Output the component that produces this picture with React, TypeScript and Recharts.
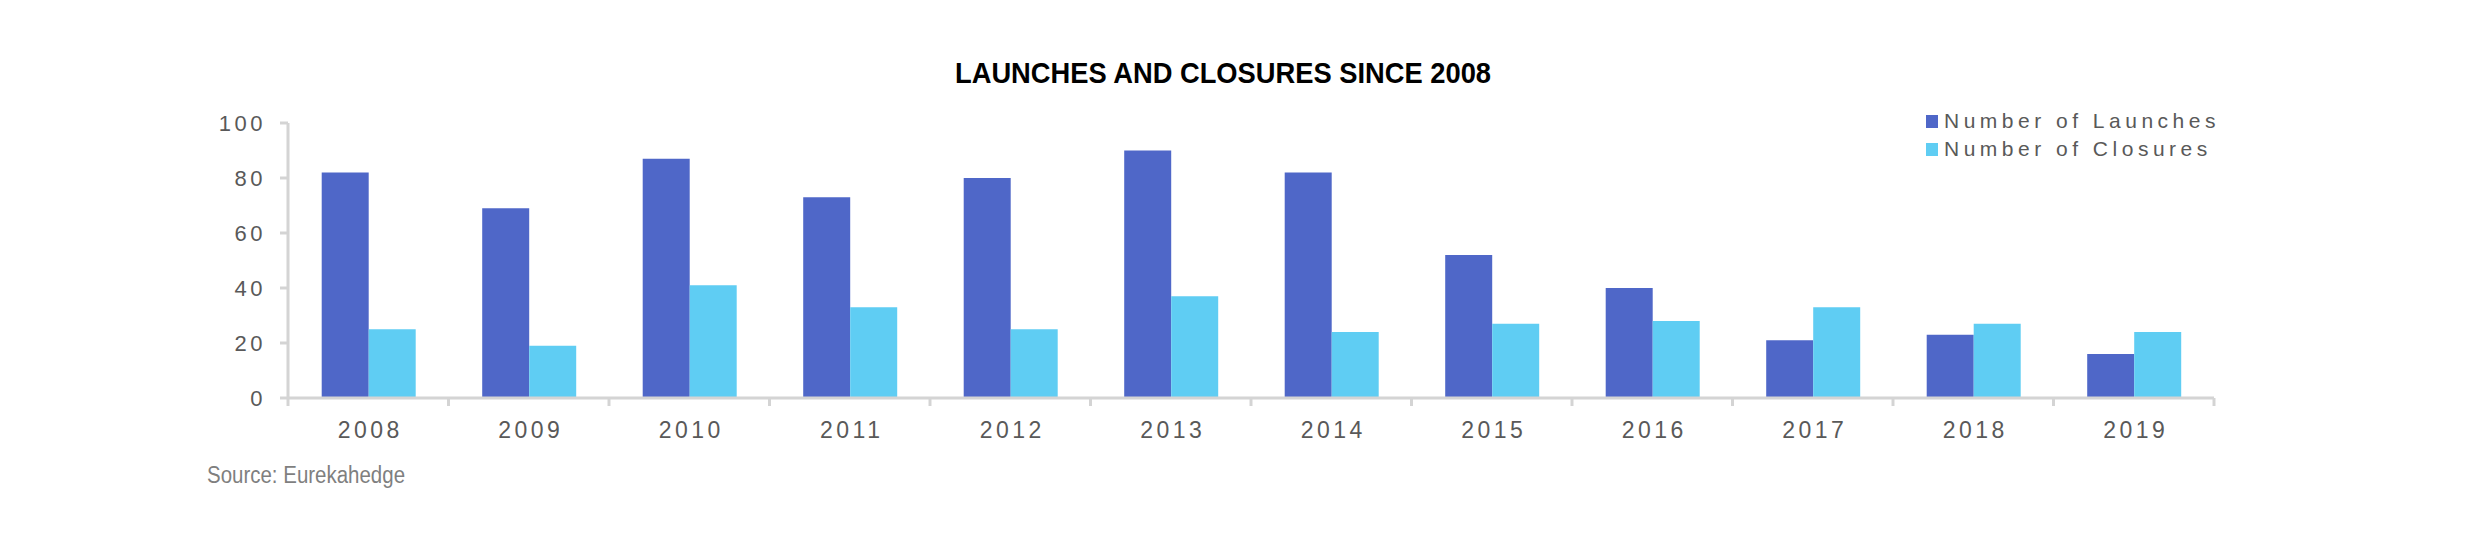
import React from 'react';
import { BarChart, Bar, XAxis, YAxis } from 'recharts';

const years = ['2008', '2009', '2010', '2011', '2012', '2013', '2014', '2015', '2016', '2017', '2018', '2019'];
const launches = [82, 69, 87, 73, 80, 90, 82, 52, 40, 21, 23, 16];
const closures = [25, 19, 41, 33, 25, 37, 24, 27, 28, 33, 27, 24];
const yTicks = [0, 20, 40, 60, 80, 100];
const seriesNames = ['Number of Launches', 'Number of Closures'];

const LAUNCH_COLOR = '#4F67C8';
const CLOSURE_COLOR = '#5FCDF3';
const AXIS_COLOR = '#D4D4D4';
const TEXT_COLOR = '#595959';
const FONT = "'Liberation Sans', Arial, sans-serif";

const data = years.map((y, i) => ({ year: y, launches: launches[i], closures: closures[i] }));

const XTick = (props: any) => {
  const { x, y, payload, index, visibleTicksCount } = props;
  const off = payload && payload.offset ? payload.offset : 0;
  return (
    <g>
      <line x1={x - off} x2={x - off} y1={y} y2={y + 8} stroke={AXIS_COLOR} strokeWidth={3} />
      {index === visibleTicksCount - 1 ? (
        <line x1={x + off} x2={x + off} y1={y} y2={y + 8} stroke={AXIS_COLOR} strokeWidth={3} />
      ) : null}
      <text x={x + 2} y={y + 40} textAnchor="middle" fill={TEXT_COLOR} fontSize={23} fontFamily={FONT} letterSpacing={3.5}>
        {payload.value}
      </text>
    </g>
  );
};

const YTick = (props: any) => {
  const { x, y, payload } = props;
  return (
    <text x={x} y={y + 8} textAnchor="end" fill={TEXT_COLOR} fontSize={22} fontFamily={FONT} letterSpacing={3.5}>
      {payload.value}
    </text>
  );
};

export default function App() {
  const colors = [LAUNCH_COLOR, CLOSURE_COLOR];
  return (
    <div style={{ position: 'relative', width: 2458, height: 530, background: '#fff' }}>
      <div
        style={{
          position: 'absolute',
          left: 0,
          width: 2430,
          top: 48,
          textAlign: 'center',
          fontFamily: FONT,
          fontWeight: 'bold',
          fontSize: 30,
          color: '#000',
          lineHeight: '34px',
          transform: 'scaleX(0.91)',
          transformOrigin: '1215px 0',
        }}
      >
        LAUNCHES AND CLOSURES SINCE 2008
      </div>
      <BarChart
        width={2458}
        height={530}
        data={data}
        margin={{ top: 115, right: 252, bottom: 90, left: 200 }}
        barCategoryGap="21%"
        barGap={0}
      >
        <XAxis
          dataKey="year"
          axisLine={{ stroke: AXIS_COLOR, strokeWidth: 3 }}
          tickLine={false}
          tickSize={0}
          tickMargin={0}
          height={50}
          tick={<XTick />}
          interval={0}
        />
        <YAxis
          domain={[0, 100]}
          ticks={yTicks}
          width={80}
          axisLine={{ stroke: AXIS_COLOR, strokeWidth: 3 }}
          tickLine={{ stroke: AXIS_COLOR, strokeWidth: 3 }}
          tickSize={8}
          tickMargin={14}
          tick={<YTick />}
        />
        <Bar dataKey="launches" name={seriesNames[0]} fill={LAUNCH_COLOR} isAnimationActive={false} />
        <Bar dataKey="closures" name={seriesNames[1]} fill={CLOSURE_COLOR} isAnimationActive={false} />
      </BarChart>
      <div style={{ position: 'absolute', left: 1918, top: 99, display: 'flex', flexDirection: 'column' }}>
        {seriesNames.map((label, i) => (
          <div key={label} style={{ display: 'flex', alignItems: 'center', height: 28 }}>
            <span style={{ display: 'inline-block', width: 12, height: 13, background: colors[i], marginRight: 6 }} />
            <span style={{ fontFamily: FONT, fontSize: 21, color: TEXT_COLOR, letterSpacing: 4.5, lineHeight: '28px', whiteSpace: 'nowrap' }}>
              {label}
            </span>
          </div>
        ))}
      </div>
      <div
        style={{
          position: 'absolute',
          left: 199,
          top: 454,
          fontFamily: FONT,
          fontSize: 23,
          color: '#7F7F7F',
          transform: 'scaleX(0.89)',
          transformOrigin: '0 0',
          whiteSpace: 'nowrap',
        }}
      >
        Source: Eurekahedge
      </div>
    </div>
  );
}
